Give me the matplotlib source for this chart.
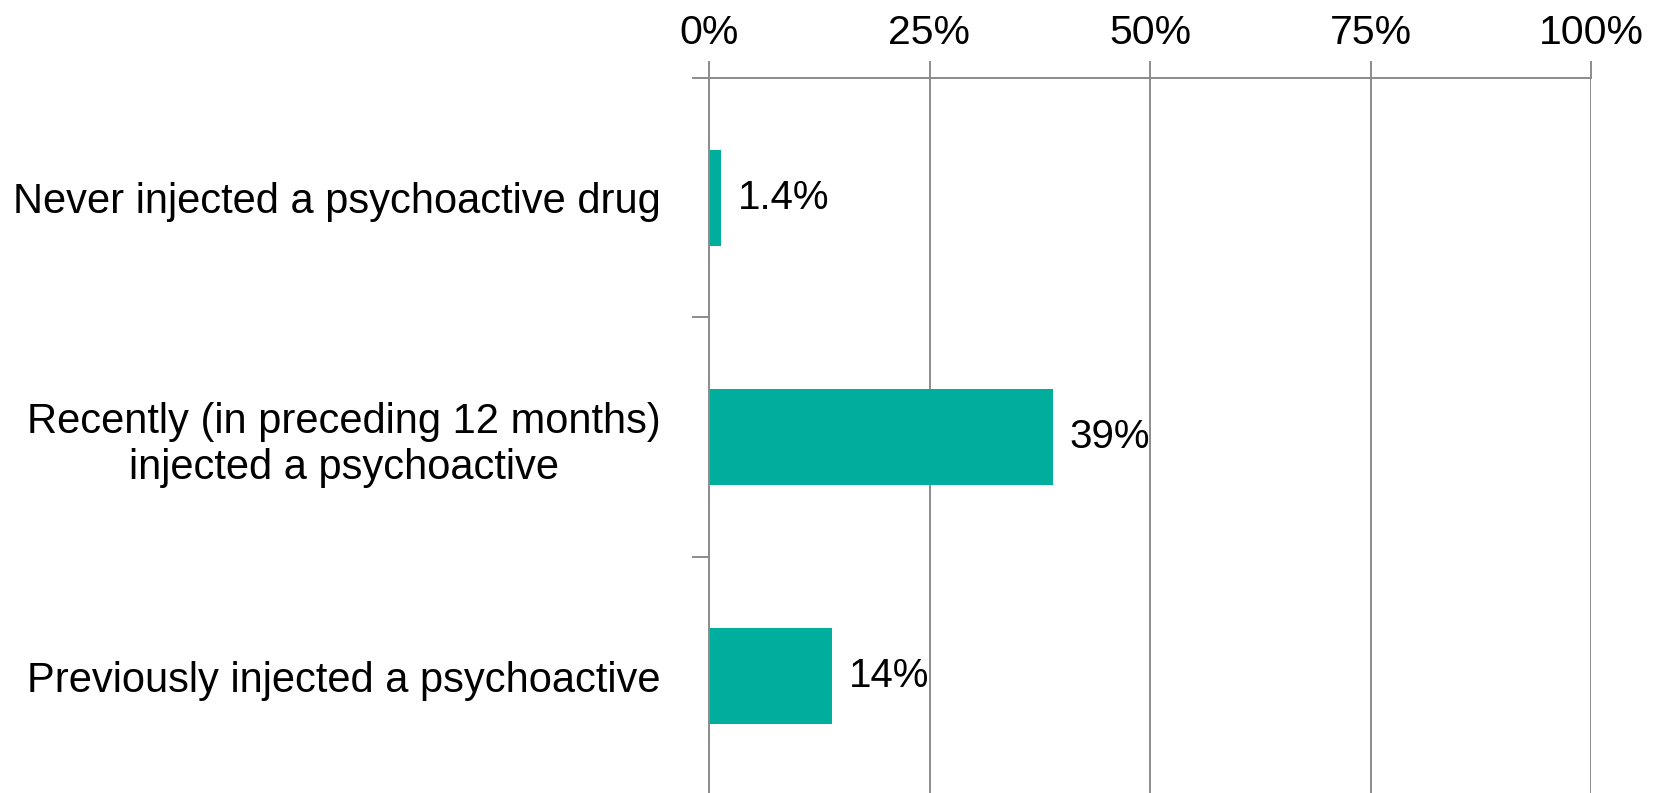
import matplotlib
matplotlib.use("Agg")
import matplotlib.pyplot as plt
from matplotlib.ticker import FuncFormatter

# --- data ---
categories = [
    "Never injected a psychoactive drug",
    "Recently (in preceding 12 months)\ninjected a psychoactive",
    "Previously injected a psychoactive",
]
values = [1.4, 39, 14]
value_labels = ["1.4%", "39%", "14%"]
x_ticks = [0, 25, 50, 75, 100]

bar_color = "#00AE9D"
grid_color = "#8C8C8C"

plt.rcParams["font.family"] = ["Liberation Sans", "DejaVu Sans"]

W, H = 1661, 793
fig = plt.figure(figsize=(W / 100, H / 100), dpi=100)
# axes in pixels: left 709, right 1591, top 78, bottom 796 (below the figure edge)
ax = fig.add_axes([709 / W, (H - 796) / H, (1591 - 709) / W, (796 - 78) / H])

y = list(range(len(categories)))
ax.barh(y, values, height=0.4, color=bar_color, zorder=3)

ax.set_xlim(0, 100)
ax.set_ylim(2.5, -0.5)

# x axis on top
ax.xaxis.tick_top()
ax.set_xticks(x_ticks)
ax.xaxis.set_major_formatter(FuncFormatter(lambda v, p: f"{v:.0f}%"))
ax.tick_params(axis="x", direction="out", length=12, width=1.4, color=grid_color,
               labelsize=29.5, pad=7)
ax.grid(axis="x", color=grid_color, linewidth=1.4, zorder=0)

# category ticks between categories
ax.set_yticks([-0.5, 0.5, 1.5, 2.5])
ax.set_yticklabels([])
ax.set_yticks(y, minor=True)
ax.set_yticklabels(categories, minor=True)
ax.tick_params(axis="y", which="major", direction="out", length=12, width=1.4, color=grid_color)
ax.tick_params(axis="y", which="minor", length=0, labelsize=30, pad=35)
for lab in ax.get_yticklabels(minor=True):
    lab.set_multialignment("center")
    lab.set_linespacing(1.22)

for s in ["right", "bottom"]:
    ax.spines[s].set_visible(False)
for s in ["left", "top"]:
    ax.spines[s].set_color(grid_color)
    ax.spines[s].set_linewidth(1.4)
    ax.spines[s].set_zorder(4)

for yi, v, lab in zip(y, values, value_labels):
    ax.annotate(lab, xy=(v, yi), xytext=(12, 0), textcoords="offset points",
                va="center", ha="left", fontsize=29, color="black", zorder=5)

fig.savefig("out.png", dpi=100)
